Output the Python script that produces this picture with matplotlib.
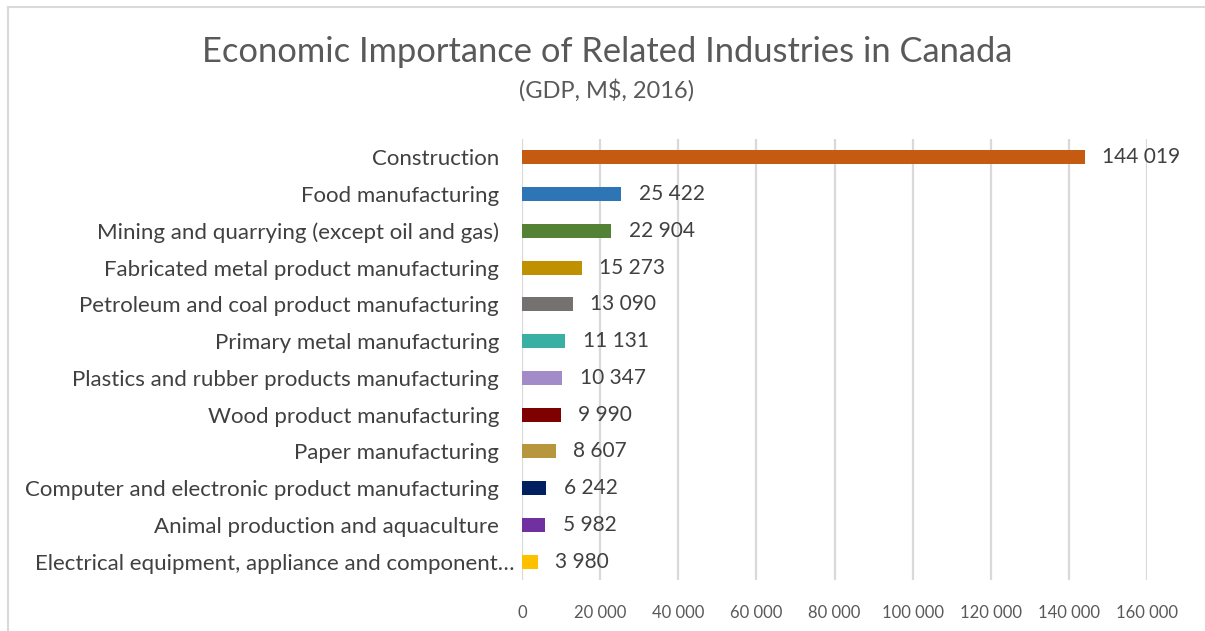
import numpy as np
import matplotlib
matplotlib.use('Agg')
import matplotlib.pyplot as plt
import matplotlib.transforms as mtransforms
from matplotlib.ticker import FuncFormatter

# GDP by industry, M$ (2016)
industries = ['Construction', 'Food manufacturing', 'Mining and quarrying (except oil and gas)',
              'Fabricated metal product manufacturing', 'Petroleum and coal product manufacturing',
              'Primary metal manufacturing', 'Plastics and rubber products manufacturing',
              'Wood product manufacturing', 'Paper manufacturing',
              'Computer and electronic product manufacturing', 'Animal production and aquaculture',
              'Electrical equipment, appliance and component\u2026']
gdp = [144019, 25422, 22904, 15273, 13090, 11131, 10347, 9990, 8607, 6242, 5982, 3980]
bar_colors = ['#C55A11', '#2E75B6', '#548235', '#BF9000', '#767171', '#3AAFA3',
              '#A28BC8', '#7F0000', '#B8963E', '#002060', '#7030A0', '#FFC000']
xticks = np.arange(0, 160001, 20000)

plt.rcParams['font.family'] = ['Lato', 'DejaVu Sans']


def spaced(v, pos=None):
    # thousands separated by a space
    return '{:,}'.format(int(v)).replace(',', ' ')


fig = plt.figure(figsize=(12.05, 6.31), dpi=100)
ax = fig.add_axes([0.4332, 0.0808, 0.5187, 0.6989])

y = np.arange(len(industries))
ax.barh(y, gdp, height=0.38, color=bar_colors, zorder=3)
for yi, v in zip(y, gdp):
    ax.text(v + 4400, yi, spaced(v), va='center', ha='left', fontsize=15, color='#404040')

ax.set_ylim(len(industries) - 0.5, -0.5)
ax.set_yticks(y)
ax.set_yticklabels(industries, fontsize=16, color='#404040')
ax.set_xlim(0, 160000)
ax.set_xticks(xticks)
ax.xaxis.set_major_formatter(FuncFormatter(spaced))
ax.tick_params(axis='x', labelsize=12, labelcolor='#595959', length=0, pad=18)
ax.tick_params(axis='y', length=0, pad=16.5)
ax.grid(axis='x', color='#D9D9D9', linewidth=1.6, zorder=0)
for s in ax.spines.values():
    s.set_visible(False)

# truncated label runs a little further right
last = ax.get_yticklabels()[-1]
last.set_transform(last.get_transform() +
                   mtransforms.ScaledTranslation(15 / 100, 0, fig.dpi_scale_trans))

fig.text(0.5035, 0.918, 'Economic Importance of Related Industries in Canada',
         ha='center', va='center', fontsize=24.8, color='#595959')
fig.text(0.5035, 0.857, '(GDP, M$, 2016)', ha='center', va='center',
         fontsize=17, color='#595959')

# outer chart frame
fig.add_artist(plt.Line2D([0.0066, 0.0066], [0, 0.989], color='#D9D9D9', linewidth=1.5))
fig.add_artist(plt.Line2D([0.0066, 1.0], [0.989, 0.989], color='#D9D9D9', linewidth=1.5))

fig.savefig('out.png', dpi=100)
